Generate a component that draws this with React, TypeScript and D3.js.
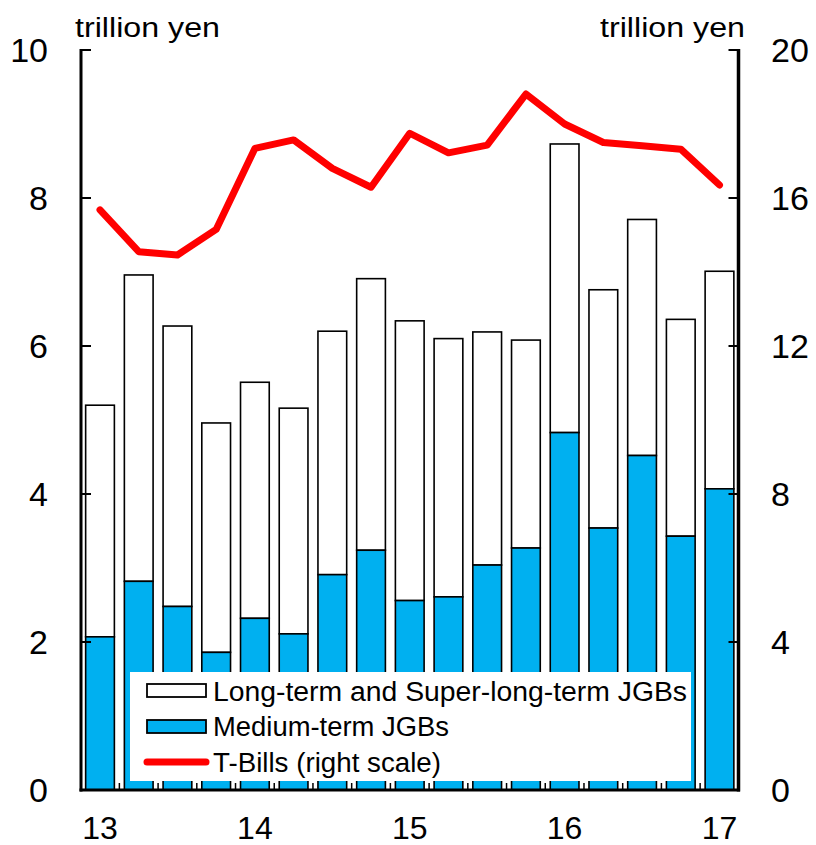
import React from "react";
import * as d3 from "d3";

// Quarterly purchases, FY2013 Q1 – FY2017 Q1 (trillion yen)
const periods = [
  "13Q1", "13Q2", "13Q3", "13Q4",
  "14Q1", "14Q2", "14Q3", "14Q4",
  "15Q1", "15Q2", "15Q3", "15Q4",
  "16Q1", "16Q2", "16Q3", "16Q4",
  "17Q1",
];
const yearLabels = ["13", "14", "15", "16", "17"];
const yearLabelIndex = [0, 4, 8, 12, 16];

// Medium-term JGBs (left scale)
const mediumTerm = [
  2.07, 2.82, 2.48, 1.86, 2.32, 2.11, 2.91, 3.24, 2.56,
  2.61, 3.04, 3.27, 4.83, 3.54, 4.52, 3.43, 4.07,
];
// Long-term + super-long-term JGBs, stacked total (left scale)
const stackTotal = [
  5.20, 6.96, 6.27, 4.96, 5.51, 5.16, 6.20, 6.91, 6.34,
  6.10, 6.19, 6.08, 8.73, 6.76, 7.71, 6.36, 7.01,
];
// T-Bills (right scale)
const tBills = [
  15.68, 14.55, 14.46, 15.15, 17.34, 17.57, 16.80, 16.29, 17.75,
  17.22, 17.43, 18.81, 18.0, 17.50, 17.41, 17.32, 16.35,
];

const leftTicks = [0, 2, 4, 6, 8, 10];
const rightTicks = [0, 4, 8, 12, 16, 20];

const W = 816;
const H = 845;
const plotLeft = 81;
const plotRight = 738.5;
const plotTop = 50;
const plotBottom = 790;

const BLUE = "#00B0F0";
const RED = "#FF0000";
const FONT = "'Liberation Sans', Arial, sans-serif";

export default function App() {
  const x = d3
    .scaleBand<string>()
    .domain(periods)
    .range([plotLeft, plotRight])
    .paddingInner(0.258)
    .paddingOuter(0.12);
  const yL = d3.scaleLinear().domain([0, 10]).range([plotBottom, plotTop]);
  const yR = d3.scaleLinear().domain([0, 20]).range([plotBottom, plotTop]);

  const bw = x.bandwidth();
  const step = x.step();
  const cx = (i: number) => (x(periods[i]) as number) + bw / 2;

  const line = d3
    .line<number>()
    .x((_, i) => cx(i))
    .y((d) => yR(d));

  const boundaries = periods.slice(0, -1).map((_, i) => cx(i) + step / 2);

  return (
    <svg
      width={W}
      height={H}
      style={{ position: "absolute", left: 0, top: 0, background: "#fff" }}
      fontFamily={FONT}
    >
      <rect x={0} y={0} width={W} height={H} fill="#fff" />

      {/* stacked bars */}
      {periods.map((p, i) => (
        <g key={p}>
          <rect
            x={x(p)}
            y={yL(stackTotal[i])}
            width={bw}
            height={yL(mediumTerm[i]) - yL(stackTotal[i])}
            fill="#fff"
            stroke="#000"
            strokeWidth={1.6}
          />
          <rect
            x={x(p)}
            y={yL(mediumTerm[i])}
            width={bw}
            height={yL(0) - yL(mediumTerm[i])}
            fill={BLUE}
            stroke="#000"
            strokeWidth={1.6}
          />
        </g>
      ))}

      {/* T-Bills line */}
      <path
        d={line(tBills) ?? ""}
        fill="none"
        stroke={RED}
        strokeWidth={7}
        strokeLinejoin="round"
        strokeLinecap="round"
      />

      {/* left axis */}
      <line x1={plotLeft} x2={plotLeft} y1={plotTop - 1} y2={plotBottom + 1.5} stroke="#000" strokeWidth={3} />
      {leftTicks.map((t) => (
        <g key={"l" + t}>
          <line x1={plotLeft} x2={plotLeft + 10} y1={yL(t)} y2={yL(t)} stroke="#000" strokeWidth={2} />
          <text x={48} y={yL(t)} dy="0.36em" textAnchor="end" fontSize={34} fill="#000">
            {t}
          </text>
        </g>
      ))}

      {/* right axis */}
      <line x1={plotRight} x2={plotRight} y1={plotTop - 1} y2={plotBottom + 1.5} stroke="#000" strokeWidth={3.5} />
      {rightTicks.map((t) => (
        <g key={"r" + t}>
          <line x1={plotRight - 10} x2={plotRight} y1={yR(t)} y2={yR(t)} stroke="#000" strokeWidth={2} />
          <text x={771} y={yR(t)} dy="0.36em" textAnchor="start" fontSize={34} fill="#000">
            {t}
          </text>
        </g>
      ))}

      {/* bottom axis */}
      <line x1={plotLeft - 1.5} x2={plotRight + 1.5} y1={plotBottom} y2={plotBottom} stroke="#000" strokeWidth={3} />
      {boundaries.map((bx, i) => (
        <line key={"b" + i} x1={bx} x2={bx} y1={plotBottom} y2={plotBottom - 7} stroke="#000" strokeWidth={1.5} />
      ))}
      {yearLabels.map((lab, k) => (
        <text key={lab} x={cx(yearLabelIndex[k])} y={839} textAnchor="middle" fontSize={32} fill="#000">
          {lab}
        </text>
      ))}

      {/* unit captions */}
      <text x={75} y={37} fontSize={27} textLength={145} lengthAdjust="spacingAndGlyphs" fill="#000">
        trillion yen
      </text>
      <text x={600} y={37} fontSize={27} textLength={145} lengthAdjust="spacingAndGlyphs" fill="#000">
        trillion yen
      </text>

      {/* legend */}
      <g>
        <rect x={130} y={672} width={561} height={109} fill="#fff" />
        <rect x={147} y={684} width={59} height={13} fill="#fff" stroke="#000" strokeWidth={1.8} />
        <text x={213} y={701} fontSize={27} textLength={474} lengthAdjust="spacingAndGlyphs" fill="#000">
          Long-term and Super-long-term JGBs
        </text>
        <rect x={147} y={720} width={59} height={13} fill={BLUE} stroke="#000" strokeWidth={1.8} />
        <text x={213} y={736} fontSize={27} textLength={236} lengthAdjust="spacingAndGlyphs" fill="#000">
          Medium-term JGBs
        </text>
        <line x1={147} x2={206} y1={762} y2={762} stroke={RED} strokeWidth={7} strokeLinecap="round" />
        <text x={213} y={771.5} fontSize={27} textLength={228} lengthAdjust="spacingAndGlyphs" fill="#000">
          T-Bills (right scale)
        </text>
      </g>
    </svg>
  );
}
